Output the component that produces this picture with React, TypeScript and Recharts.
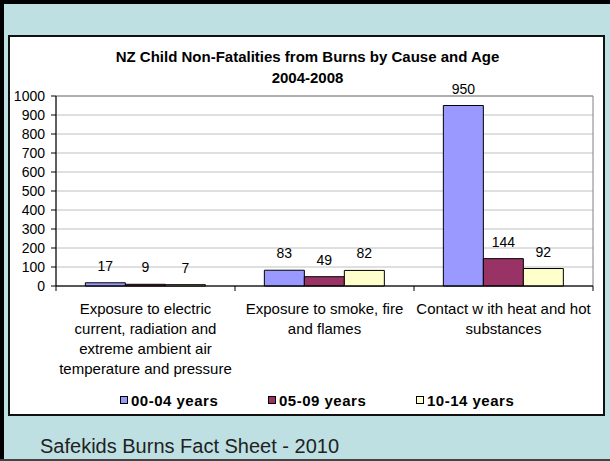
import React from 'react';
import { BarChart, Bar, XAxis, YAxis, CartesianGrid, Legend, LabelList, ReferenceArea } from 'recharts';

const categories = [
  'Exposure to electric\ncurrent, radiation and\nextreme ambient air\ntemperature and pressure',
  'Exposure to smoke, fire\nand flames',
  'Contact w ith heat and hot\nsubstances',
];
const age0004 = [17, 83, 950];
const age0509 = [9, 49, 144];
const age1014 = [7, 82, 92];
const seriesNames = ['00-04 years', '05-09 years', '10-14 years'];
const seriesColors = ['#9999ff', '#993366', '#ffffcc'];
const yTicks = [0, 100, 200, 300, 400, 500, 600, 700, 800, 900, 1000];

const data = categories.map((name, i) => ({
  name,
  a: age0004[i],
  b: age0509[i],
  c: age1014[i],
}));

const CHART_W = 593;
const CHART_H = 377;
const MARGIN = { top: 59, right: 10, bottom: 4, left: 0 };
const Y_AXIS_W = 46;
const BAND = (CHART_W - MARGIN.left - MARGIN.right - Y_AXIS_W) / categories.length;
const FONT = '"Liberation Sans", Arial, sans-serif';

const CategoryTick = (props: any) => {
  const { x, y, payload, index } = props;
  const lines = String(payload.value).split('\n');
  return (
    <g>
      <line x1={x - BAND / 2} x2={x - BAND / 2} y1={y} y2={y + 5} stroke="#000" />
      {index === categories.length - 1 && (
        <line x1={x + BAND / 2} x2={x + BAND / 2} y1={y} y2={y + 5} stroke="#000" />
      )}
      {lines.map((line, i) => (
        <text key={i} x={x} y={y + 28 + i * 20} textAnchor="middle" fontSize={15} fill="#000" fontFamily={FONT}>
          {line}
        </text>
      ))}
    </g>
  );
};

const LegendContent = () => (
  <div style={{ height: 20, display: 'flex', alignItems: 'center', fontFamily: FONT }}>
    {seriesNames.map((n, i) => (
      <div key={n} style={{ width: 148, display: 'flex', alignItems: 'center' }}>
        <span
          style={{
            display: 'inline-block',
            width: 6,
            height: 6,
            border: '1px solid #000',
            background: seriesColors[i],
            marginRight: 3,
          }}
        />
        <span style={{ fontSize: 15, fontWeight: 'bold', letterSpacing: 0.5, color: '#000' }}>{n}</span>
      </div>
    ))}
  </div>
);

export default function App() {
  return (
    <div
      style={{
        position: 'fixed',
        left: 0,
        top: 0,
        width: 610,
        height: 461,
        background: '#bee0e3',
        fontFamily: FONT,
        overflow: 'hidden',
      }}
    >
      {/* frame edges */}
      <div style={{ position: 'absolute', left: 0, top: 0, width: 610, height: 4, background: '#000' }} />
      <div style={{ position: 'absolute', left: 0, top: 0, width: 4, height: 461, background: '#000' }} />
      <div style={{ position: 'absolute', left: 0, top: 459, width: 610, height: 2, background: '#444' }} />
      <div
        style={{
          position: 'absolute',
          left: 8,
          top: 35,
          width: 597,
          height: 381,
          boxSizing: 'border-box',
          border: '2px solid #111',
          background: '#fff',
        }}
      >
        <div
          style={{
            position: 'absolute',
            left: 1,
            top: 9,
            width: CHART_W,
            textAlign: 'center',
            fontSize: 15,
            fontWeight: 'bold',
            lineHeight: '21px',
            color: '#000',
          }}
        >
          NZ Child Non-Fatalities from Burns by Cause and Age
          <br />
          2004-2008
        </div>
        <BarChart
          width={CHART_W}
          height={CHART_H}
          data={data}
          margin={MARGIN}
          barCategoryGap="16.4%"
          barGap={0}
        >
          <CartesianGrid vertical={false} stroke="#c0c0c0" />
          <ReferenceArea y1={0} y2={1000} fill="none" stroke="#808080" />
          <XAxis
            dataKey="name"
            height={104}
            interval={0}
            tickSize={0}
            tickMargin={0}
            tickLine={false}
            axisLine={{ stroke: '#000' }}
            tick={<CategoryTick />}
          />
          <YAxis
            width={Y_AXIS_W}
            domain={[0, 1000]}
            ticks={yTicks}
            interval={0}
            tickSize={5}
            tickMargin={6}
            axisLine={{ stroke: '#000' }}
            tickLine={{ stroke: '#000' }}
            tick={{ fontSize: 14, fill: '#000', fontFamily: FONT }}
          />
          <Legend
            verticalAlign="bottom"
            content={<LegendContent />}
            wrapperStyle={{ left: 110, width: 470 }}
          />
          <Bar dataKey="a" name={seriesNames[0]} fill={seriesColors[0]} stroke="#000" isAnimationActive={false}>
            <LabelList dataKey="a" position="top" offset={12} fontSize={14} fill="#000" fontFamily={FONT} />
          </Bar>
          <Bar dataKey="b" name={seriesNames[1]} fill={seriesColors[1]} stroke="#000" isAnimationActive={false}>
            <LabelList dataKey="b" position="top" offset={12} fontSize={14} fill="#000" fontFamily={FONT} />
          </Bar>
          <Bar dataKey="c" name={seriesNames[2]} fill={seriesColors[2]} stroke="#000" isAnimationActive={false}>
            <LabelList dataKey="c" position="top" offset={12} fontSize={14} fill="#000" fontFamily={FONT} />
          </Bar>
        </BarChart>
      </div>
      <div
        style={{
          position: 'absolute',
          left: 40,
          top: 434,
          fontSize: 20,
          lineHeight: '24px',
          color: '#222',
          whiteSpace: 'nowrap',
        }}
      >
        Safekids Burns Fact Sheet - 2010
      </div>
    </div>
  );
}
